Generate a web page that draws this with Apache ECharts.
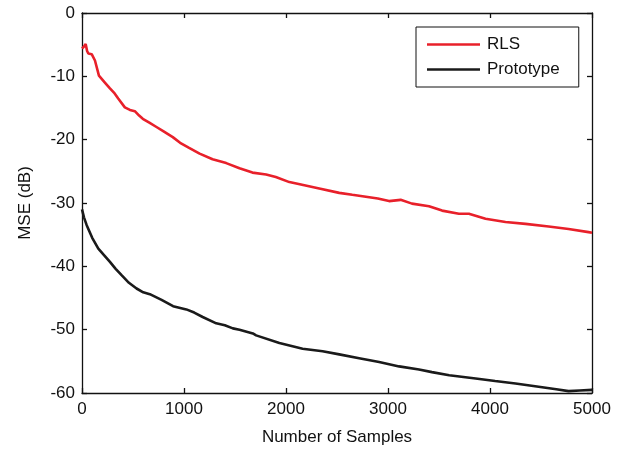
<!DOCTYPE html>
<html>
<head>
<meta charset="utf-8">
<script src="https://cdn.jsdelivr.net/npm/echarts@6/dist/echarts.min.js"></script>
<style>
  html, body { margin: 0; padding: 0; background: #fff; }
  #chart { width: 636px; height: 451px; }
</style>
</head>
<body>
<div id="chart"></div>
<script>
// values
const rlsN = [0, 20, 36, 50, 62, 95, 127, 166, 220, 274, 320, 355, 420, 470, 518, 560, 596, 660, 730, 800, 890, 962, 1050, 1153, 1280, 1414, 1544, 1671, 1805, 1900, 2033, 2180, 2326, 2522, 2650, 2783, 2900, 3010, 3124, 3235, 3402, 3530, 3695, 3793, 3956, 4152, 4348, 4575, 4770, 4966, 5000]
const rlsMse = [-5.6, -5.3, -4.9, -6.0, -6.4, -6.5, -7.5, -9.9, -10.9, -11.9, -12.7, -13.5, -14.9, -15.3, -15.5, -16.2, -16.7, -17.3, -18.0, -18.7, -19.6, -20.5, -21.3, -22.2, -23.1, -23.7, -24.5, -25.2, -25.5, -25.9, -26.7, -27.2, -27.7, -28.4, -28.7, -29.0, -29.3, -29.7, -29.5, -30.1, -30.5, -31.2, -31.7, -31.7, -32.5, -33.0, -33.3, -33.7, -34.1, -34.6, -34.7]

const protoN = [0, 20, 46, 100, 160, 220, 274, 330, 388, 460, 535, 600, 665, 780, 893, 1023, 1100, 1183, 1316, 1400, 1479, 1544, 1675, 1707, 1935, 2163, 2359, 2522, 2717, 2913, 3109, 3304, 3431, 3600, 3859, 4050, 4250, 4477, 4650, 4770, 4880, 5000]
const protoMse = [-31.0, -32.3, -33.5, -35.5, -37.2, -38.3, -39.3, -40.4, -41.4, -42.6, -43.5, -44.1, -44.4, -45.3, -46.3, -46.8, -47.3, -48.0, -49.0, -49.3, -49.8, -50.0, -50.6, -50.9, -52.1, -53.0, -53.4, -53.9, -54.5, -55.1, -55.8, -56.3, -56.7, -57.2, -57.7, -58.1, -58.5, -59.0, -59.4, -59.7, -59.6, -59.5]

const seriesNames = ['RLS', 'Prototype']
const xTicks = [0, 1000, 2000, 3000, 4000, 5000]
const yTicks = [-60, -50, -40, -30, -20, -10, 0]

const font = 'Liberation Sans, Arial, Helvetica, sans-serif'
const axisColor = '#111'

const pairs = (xs, ys) => xs.map((x, i) => [x, ys[i]])

const baseX = {
  type: 'value',
  min: xTicks[0],
  max: xTicks[xTicks.length - 1],
  interval: 1000,
  axisLine: { show: true, onZero: false, lineStyle: { color: axisColor, width: 1.3 } },
  axisTick: { show: true, inside: true, length: 5, lineStyle: { color: axisColor, width: 1.3 } },
  splitLine: { show: false }
}
const baseY = {
  type: 'value',
  min: yTicks[0],
  max: yTicks[yTicks.length - 1],
  interval: 10,
  axisLine: { show: true, onZero: false, lineStyle: { color: axisColor, width: 1.3 } },
  axisTick: { show: true, inside: true, length: 5, lineStyle: { color: axisColor, width: 1.3 } },
  splitLine: { show: false }
}

const chart = echarts.init(document.getElementById('chart'))
chart.setOption({
  animation: false,
  backgroundColor: '#fff',
  grid: { left: 82, right: 44, top: 13, bottom: 58 },
  legend: {
    orient: 'vertical',
    left: 416,
    top: 27,
    data: seriesNames,
    icon: 'rect',
    itemWidth: 53,
    itemHeight: 2.5,
    itemGap: 8,
    padding: [9, 19, 9, 11],
    borderColor: '#111',
    borderWidth: 1,
    backgroundColor: '#fff',
    textStyle: { fontFamily: font, fontSize: 17, lineHeight: 14, color: '#111', padding: [0, 0, 0, 2] }
  },
  xAxis: [
    {
      ...baseX,
      position: 'bottom',
      name: 'Number of Samples',
      nameLocation: 'middle',
      nameGap: 36,
      nameTextStyle: { fontFamily: font, fontSize: 17, color: '#111' },
      axisLabel: { color: '#111', fontFamily: font, fontSize: 17, margin: 8, formatter: v => String(v) }
    },
    { ...baseX, position: 'top', axisLabel: { show: false } }
  ],
  yAxis: [
    {
      ...baseY,
      position: 'left',
      name: 'MSE (dB)',
      nameLocation: 'middle',
      nameGap: 48,
      nameTextStyle: { fontFamily: font, fontSize: 17, color: '#111' },
      axisLabel: { color: '#111', fontFamily: font, fontSize: 17, margin: 7 }
    },
    { ...baseY, position: 'right', axisLabel: { show: false } }
  ],
  series: [
    {
      name: seriesNames[0],
      type: 'line',
      symbol: 'none',
      data: pairs(rlsN, rlsMse),
      lineStyle: { color: '#e8202a', width: 2.6 },
      itemStyle: { color: '#e8202a' }
    },
    {
      name: seriesNames[1],
      type: 'line',
      symbol: 'none',
      data: pairs(protoN, protoMse),
      lineStyle: { color: '#1a1a1a', width: 2.6 },
      itemStyle: { color: '#1a1a1a' }
    }
  ]
})
</script>
</body>
</html>
